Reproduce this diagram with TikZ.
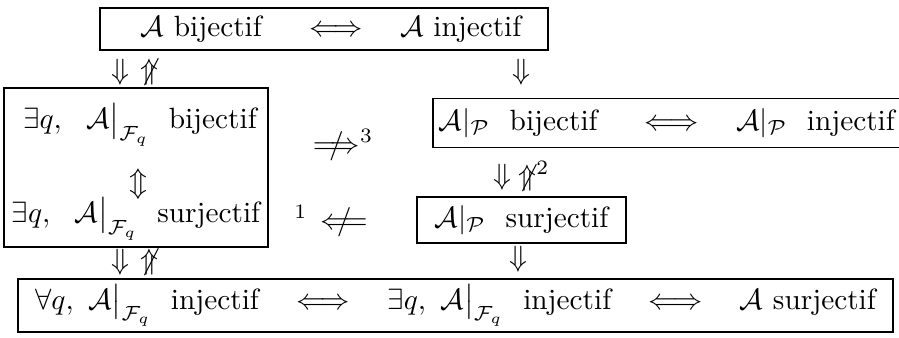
\documentclass[tikz,border=0pt]{standalone}
\usepackage{amsmath}
\usepackage{amssymb}
\usetikzlibrary{positioning}
\newlength\pxu
\setlength\pxu{0.012cm}
\newcommand{\nimpl}{\mathrel{\ooalign{$\Longrightarrow$\cr\hidewidth$/$\hidewidth\cr}}}
\newcommand{\nimpr}{\mathrel{\ooalign{$\Longleftarrow$\cr\hidewidth$/$\hidewidth\cr}}}

\begin{document}
\begin{tikzpicture}[
  x=\pxu,y=-\pxu,
  box/.style={draw,line width=0.6pt,inner sep=0pt,align=center},
  imp/.style={inner sep=0pt},
]
  \useasboundingbox (0,0) rectangle (899,337);

  % top row
  \node[box,minimum width=448\pxu,minimum height=42\pxu] (bij) at (324,29)
    {\hspace*{14\pxu}$\mathcal{A}$ bijectif \quad$\iff$\quad $\mathcal{A}$ injectif};
  \node[imp] (d1) at (120,72) {$\Downarrow$};
  \node[imp] (u1) at (149,72) {$\not\Uparrow$};
  \node[imp] (d2) at (521,72) {$\Downarrow$};

  % left block
  \node[box,minimum width=264\pxu,minimum height=159\pxu] (fq) at (136,167.5) {};
  \node (fqbij) at (140,125) {$\exists q,\ \ \mathcal{A}\big|_{\mathcal{F}_q}$\ \ bijectif};
  \node[imp] (ud) at (138,184) {$\Updownarrow$};
  \node (fqsur) at (136,219) {$\exists q,\ \ \mathcal{A}\big|_{\mathcal{F}_q}$\ \ surjectif};

  % right block
  \node[box,anchor=west,minimum height=49\pxu] (pbij) at (432,123)
    {\hspace*{6\pxu}$\mathcal{A}|_{\mathcal{P}}$ \ bijectif \quad$\iff$\quad $\mathcal{A}|_{\mathcal{P}}$ \ injectif\hspace*{30\pxu}};
  \node[imp] (d3) at (502,177) {$\Downarrow$};
  \node[imp] (u3) at (534,176) {$\not\Uparrow^{2}$};
  \node[box,minimum width=209\pxu,minimum height=46\pxu] (psur) at (521.5,220)
    {$\mathcal{A}|_{\mathcal{P}}$ \ surjectif};

  % cross implications
  \node[imp] (n3) at (343,145) {$\nimpl^{3}$};
  \node[imp] (n1) at (331,221) {${}^{1}\,\nimpr$};

  % bottom row
  \node[imp] (d4) at (120,262) {$\Downarrow$};
  \node[imp] (u4) at (149,262) {$\not\Uparrow$};
  \node[imp] (d5) at (518,259) {$\Downarrow$};
  \node[box,minimum width=875\pxu,minimum height=53\pxu] (sur) at (455.5,305.5)
    {$\forall q,\ \mathcal{A}\big|_{\mathcal{F}_q}$ \ injectif \ \ $\iff$\ \ \
     $\exists q,\ \mathcal{A}\big|_{\mathcal{F}_q}$ \ injectif \ \ $\iff$\ \ \
     $\mathcal{A}$ surjectif};
\end{tikzpicture}
\end{document}
